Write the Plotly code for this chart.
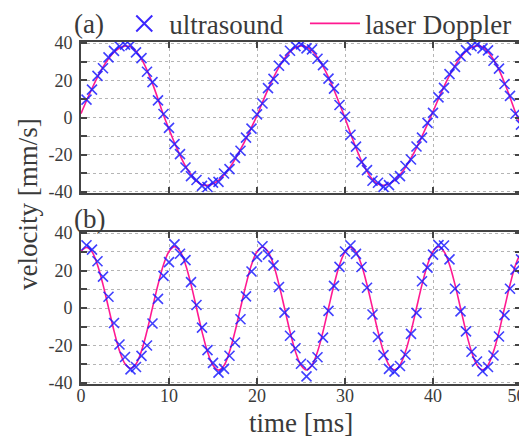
import plotly.graph_objects as go

# ---- data (time in ms, velocity in mm/s) ----
time_ms = [
    0, 0.625, 1.25, 1.875, 2.5, 3.125, 3.75, 4.375,
    5, 5.625, 6.25, 6.875, 7.5, 8.125, 8.75, 9.375,
    10, 10.625, 11.25, 11.875, 12.5, 13.125, 13.75, 14.375,
    15, 15.625, 16.25, 16.875, 17.5, 18.125, 18.75, 19.375,
    20, 20.625, 21.25, 21.875, 22.5, 23.125, 23.75, 24.375,
    25, 25.625, 26.25, 26.875, 27.5, 28.125, 28.75, 29.375,
    30, 30.625, 31.25, 31.875, 32.5, 33.125, 33.75, 34.375,
    35, 35.625, 36.25, 36.875, 37.5, 38.125, 38.75, 39.375,
    40, 40.625, 41.25, 41.875, 42.5, 43.125, 43.75, 44.375,
    45, 45.625, 46.25, 46.875, 47.5, 48.125, 48.75, 49.375,
    50,
]

# (a) laser Doppler (line)
laser_a = [
    2.1, 9.0, 15.6, 21.7, 27.1, 31.6, 35.1, 37.4, 38.4,
    38.0, 35.6, 31.4, 25.5, 18.2, 10.0, 1.3,
    -6.3, -13.6, -20.3, -26.2, -30.8, -34.2, -36.1,
    -36.5, -35.6, -33.8, -30.9, -27.1, -22.5, -17.2, -11.5, -5.3,
    1.0, 8.2, 15.1, 21.5, 27.1, 31.8, 35.3, 37.6, 38.5,
    37.9, 35.9, 32.3, 27.5, 21.6, 14.8, 7.4,
    -0.3, -8.6, -16.4, -23.3, -29.0, -33.3, -35.8,
    -36.5, -35.7, -33.8, -30.8, -26.8, -21.9, -16.3, -10.1, -3.6,
    3.2, 10.1, 16.6, 22.6, 27.9, 32.3, 35.5, 37.6, 38.5,
    37.9, 35.4, 31.2, 25.6, 18.7, 10.9, 2.7,
    -4.5,
]

# (a) ultrasound (markers) at time_ms[1:]
ultra_a = [
    9.6, 15.0, 22.4, 26.5, 32.3, 35.8, 38.3, 39.2,
    38.9, 35.0, 31.9, 24.6, 19.0, 9.2, 1.9,
    -5.6, -14.3, -19.7, -26.9, -31.5, -33.6, -36.8,
    -37.4, -35.0, -34.6, -30.1, -27.8, -21.7, -17.9, -10.8, -6.0,
    1.7, 7.5, 15.8, 20.8, 27.8, 31.1, 35.9, 38.4, 39.3,
    37.2, 36.6, 31.6, 28.2, 20.9, 15.5, 6.7,
    0.4, -9.3, -15.7, -24.0, -28.3, -34.0, -35.1,
    -37.3, -36.4, -33.1, -31.5, -26.1, -22.6, -15.6, -10.8, -2.9,
    2.5, 10.8, 15.9, 23.3, 27.2, 33.0, 36.2, 38.3, 39.1,
    37.2, 36.1, 30.5, 26.3, 18.0, 11.6, 2.0,
    -3.8,
]

# (b) laser Doppler (line)
laser_b = [
    30.2, 32.3, 30.0, 23.0, 12.5, 0.2, -12.2, -22.9, -29.8, -32.2,
    -29.9, -22.9, -12.3, 0.2, 12.5, 23.1, 30.2, 32.8, 30.4, 23.3,
    12.6, 0.0, -12.6, -23.4, -30.6, -33.2, -30.7, -23.4, -12.6, 0.0,
    12.5, 23.1, 30.1, 32.6, 30.1, 23.1, 12.5, 0.0, -12.6, -23.4,
    -30.6, -33.1, -30.6, -23.4, -12.6, 0.0, 12.4, 23.0, 29.9, 32.4,
    29.9, 23.0, 12.4, 0.0, -12.6, -23.3, -30.5, -33.0, -30.5, -23.3,
    -12.6, 0.0, 12.5, 23.1, 30.2, 32.7, 30.2, 23.1, 12.5, 0.0,
    -12.6, -23.3, -30.5, -33.0, -30.5, -23.3, -12.6, 0.0, 12.4, 23.0,
    29.8,
]

# (b) ultrasound (markers) at time_ms[1:]
ultra_b = [
    33.5, 31.2, 25.0, 16.8, 6.0, -8.0, -19.5, -26.2, -32.8,
    -31.5, -25.6, -20.0, -8.3, 4.9, 17.2, 24.5,
    34.0, 29.0, 25.6, 13.8, 1.6, -10.5, -22.5, -29.3, -34.5,
    -32.5, -25.5, -18.4, -6.0, 6.2, 19.5, 27.3,
    33.0, 28.5, 22.8, 11.2, -2.5, -14.8, -21.5, -29.8, -36.5,
    -30.6, -26.3, -15.8, -1.5, 11.8, 22.0, 30.2,
    33.4, 28.9, 21.9, 10.8, -3.5, -15.5, -25.2, -32.5, -34.0,
    -31.0, -25.0, -13.8, -2.6, 14.3, 21.6, 28.5,
    33.6, 33.4, 26.0, 10.3, -1.8, -12.5, -23.4, -28.6, -33.8,
    -31.5, -25.4, -15.2, -3.8, 10.3, 20.5, 26.0,
]

y_tickvals = [-40, -30, -20, -10, 0, 10, 20, 30, 40]
y_ticktext = ["-40", "", "-20", "", "0", "", "20", "", "40"]
x_tickvals = [0, 10, 20, 30, 40, 50]
# trailing no-break spaces nudge the last label inside the page edge
x_ticktext = ["0", "10", "20", "30", "40", "50\u00a0\u00a0"]

FONT = 'Liberation Serif, "Times New Roman", Times, serif'
TXT = "#3a3a3a"
PINK = "rgb(255,25,145)"
BLUE = "rgba(30,30,255,0.85)"

us_time = time_ms[1:]

fig = go.Figure()
fig.add_trace(go.Scatter(x=time_ms, y=laser_a, mode="lines", name="laser Doppler",
                         line=dict(color=PINK, width=1.6, shape="spline"),
                         legend="legend2", xaxis="x", yaxis="y"))
fig.add_trace(go.Scatter(x=us_time, y=ultra_a, mode="markers", name="ultrasound",
                         showlegend=False,
                         marker=dict(symbol="x-thin", size=10, line=dict(width=1.6, color=BLUE)),
                         xaxis="x", yaxis="y"))
# legend entry for the ultrasound markers (drawn larger, as in the original key)
fig.add_trace(go.Scatter(x=[None], y=[None], mode="markers", name="ultrasound",
                         marker=dict(symbol="x-thin", size=20, line=dict(width=2, color="rgb(60,40,255)")),
                         legend="legend", xaxis="x", yaxis="y"))
fig.add_trace(go.Scatter(x=time_ms, y=laser_b, mode="lines", showlegend=False,
                         line=dict(color=PINK, width=1.6, shape="spline"),
                         xaxis="x2", yaxis="y2"))
fig.add_trace(go.Scatter(x=us_time, y=ultra_b, mode="markers", showlegend=False,
                         marker=dict(symbol="x-thin", size=10, line=dict(width=1.6, color=BLUE)),
                         xaxis="x2", yaxis="y2"))

common_x = dict(range=[0, 50], tickvals=x_tickvals, ticktext=x_ticktext,
                ticks="inside", ticklen=6, tickwidth=1.5, tickcolor="#444",
                showline=True, linecolor="#444", linewidth=1.6, mirror="ticks",
                showgrid=True, gridcolor="#b5b5b5", griddash="dot", gridwidth=1,
                zeroline=False, ticklabeloverflow="allow",
                tickfont=dict(family=FONT, size=18, color=TXT))
common_y = dict(range=[-40.6, 40.6], tickvals=y_tickvals, ticktext=y_ticktext,
                ticks="inside", ticklen=6, tickwidth=1.5, tickcolor="#444",
                showline=True, linecolor="#444", linewidth=1.6, mirror="ticks",
                showgrid=True, gridcolor="#b5b5b5", griddash="dot", gridwidth=1,
                zeroline=False, ticklabelstandoff=3,
                tickfont=dict(family=FONT, size=18, color=TXT))

legend_common = dict(orientation="h", xanchor="left", y=1.053, yanchor="middle",
                     font=dict(family=FONT, size=27, color=TXT), bgcolor="rgba(0,0,0,0)",
                     borderwidth=0)

# the page body has an 8 px default margin, so the figure is sized 8 px smaller
fig.update_layout(
    width=519, height=433,
    margin=dict(l=73, r=6, t=34, b=57, autoexpand=False),
    paper_bgcolor="white", plot_bgcolor="white",
    font=dict(family=FONT, color=TXT),
    xaxis=dict(domain=[0, 1], anchor="y", showticklabels=False, **common_x),
    yaxis=dict(domain=[0.5585, 1], anchor="x", **common_y),
    xaxis2=dict(domain=[0, 1], anchor="y2", ticklabelstandoff=-5, **common_x),
    yaxis2=dict(domain=[0, 0.4444], anchor="x2", **common_y),
    legend=dict(x=0.087, itemwidth=40, **legend_common),
    legend2=dict(x=0.509, itemwidth=50, **legend_common),
    annotations=[
        dict(text="(a)", x=-0.02, y=1.053, xref="paper", yref="paper",
             xanchor="left", yanchor="middle", showarrow=False,
             font=dict(family=FONT, size=27, color=TXT)),
        dict(text="(b)", x=-0.02, y=0.482, xref="paper", yref="paper",
             xanchor="left", yanchor="middle", showarrow=False,
             font=dict(family=FONT, size=27, color=TXT)),
        dict(text="velocity [mm/s]", x=-0.12, y=0.527, xref="paper", yref="paper",
             xanchor="center", yanchor="middle", textangle=-90, showarrow=False,
             font=dict(family=FONT, size=27, color=TXT)),
        dict(text="time [ms]", x=0.5, y=-0.115, xref="paper", yref="paper",
             xanchor="center", yanchor="middle", showarrow=False,
             font=dict(family=FONT, size=27, color=TXT)),
    ],
)

fig.write_html("out.html")
